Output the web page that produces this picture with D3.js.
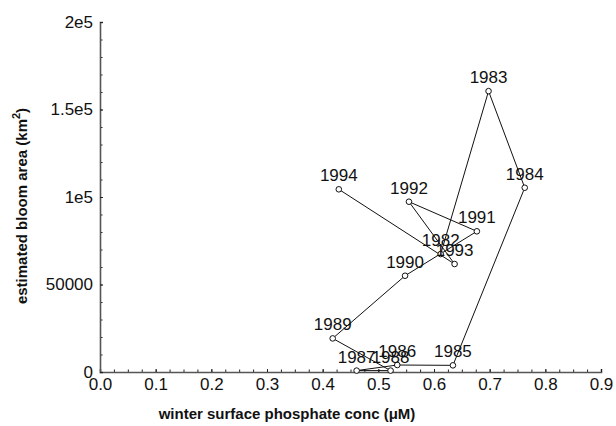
<!DOCTYPE html>
<html><head><meta charset="utf-8">
<script src="https://cdn.jsdelivr.net/npm/d3@7"></script>
<style>body{margin:0;background:#fff;} text{font-family:"Liberation Sans",Arial,sans-serif;}</style>
</head><body><svg id="c" width="616" height="426"></svg>
<script>
const years = [1982,1983,1984,1985,1986,1987,1988,1989,1990,1991,1992,1993,1994];
const phosphate = [0.612,0.698,0.763,0.634,0.534,0.461,0.522,0.418,0.548,0.677,0.555,0.637,0.429];
const bloomArea = [67400,160500,105300,3800,4000,800,800,19200,55000,80400,97300,61700,104400];
const xTicks = [0,0.1,0.2,0.3,0.4,0.5,0.6,0.7,0.8,0.9];
const yTicks = [0,50000,100000,150000,200000];
const yTickLabels = ["0","50000","1e5","1.5e5","2e5"];

const svg = d3.select("#c");
const x = d3.scaleLinear().domain([0,0.9]).range([100,601]);
const y = d3.scaleLinear().domain([0,200000]).range([372,22]);

// minor ticks
const xMinor = d3.range(0,0.9001,0.025);
const yMinor = d3.range(0,200001,10000);
svg.append("g").attr("transform","translate(0,372)")
  .call(d3.axisBottom(x).tickValues(xMinor).tickSize(-2.5).tickFormat(""))
  .call(g=>g.select(".domain").remove())
  .selectAll("line").attr("stroke","#222");
svg.append("g").attr("transform","translate(100,0)")
  .call(d3.axisLeft(y).tickValues(yMinor).tickSize(-2.5).tickFormat(""))
  .call(g=>g.select(".domain").remove())
  .selectAll("line").attr("stroke","#222");

// main axes
const gx = svg.append("g").attr("transform","translate(0,372)")
  .call(d3.axisBottom(x).tickValues(xTicks).tickSize(-3).tickPadding(6).tickFormat(d3.format(".1f")));
gx.select(".domain").attr("stroke","#555").attr("stroke-width",1.6);
gx.selectAll("text").attr("font-size",17).attr("fill","#111").attr("font-family","Liberation Sans, Arial, sans-serif");
const gy = svg.append("g").attr("transform","translate(100,0)")
  .call(d3.axisLeft(y).tickValues(yTicks).tickSize(-3).tickPadding(7).tickFormat((d,i)=>yTickLabels[i]));
gy.select(".domain").attr("stroke","#555").attr("stroke-width",1.6);
gy.selectAll("text").attr("font-size",17).attr("fill","#111").attr("font-family","Liberation Sans, Arial, sans-serif");
svg.selectAll(".tick line").attr("stroke","#222");

// axis titles
svg.append("text").attr("x",287).attr("y",419).attr("text-anchor","middle")
  .attr("font-size",15).attr("font-weight","bold").attr("fill","#111")
  .text("winter surface phosphate conc (μM)");
const yt = svg.append("text").attr("transform","translate(27,206) rotate(-90)")
  .attr("text-anchor","middle").attr("font-size",15).attr("font-weight","bold").attr("fill","#111");
yt.append("tspan").text("estimated bloom area (km");
yt.append("tspan").attr("font-size",11).attr("dy",-7).text("2");
yt.append("tspan").attr("dy",7).text(")");

// data
const data = years.map((yr,i)=>({yr, px:phosphate[i], a:bloomArea[i]}));
svg.append("path").datum(data)
  .attr("d", d3.line().x(d=>x(d.px)).y(d=>y(d.a)))
  .attr("fill","none").attr("stroke","#111").attr("stroke-width",1);
svg.selectAll("circle.pt").data(data).join("circle").attr("class","pt")
  .attr("cx",d=>x(d.px)).attr("cy",d=>y(d.a)).attr("r",2.8)
  .attr("fill","#fff").attr("stroke","#111").attr("stroke-width",1);
svg.selectAll("text.lbl").data(data).join("text").attr("class","lbl")
  .attr("x",d=>x(d.px)).attr("y",d=>y(d.a)-8).attr("text-anchor","middle")
  .attr("font-size",17).attr("fill","#111").text(d=>d.yr);
</script></body></html>
